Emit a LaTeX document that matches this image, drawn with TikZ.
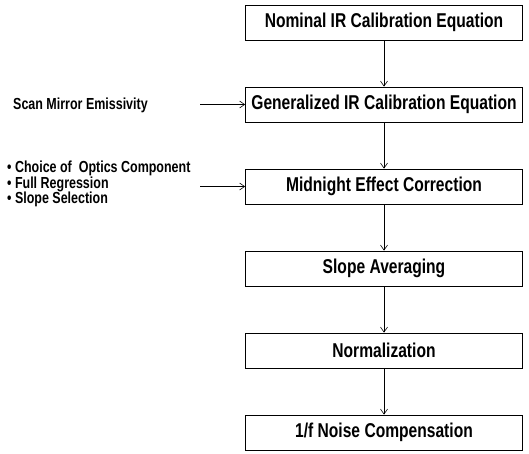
\documentclass[tikz,border=0pt]{standalone}
\usepackage{fontspec}
\setmainfont[FakeStretch=0.78]{Liberation Sans}
\usetikzlibrary{arrows.meta}
\tikzstyle{stage} = [rectangle, minimum width=277pt, minimum height=35pt, text centered, draw=black, line width=0.8pt, font=\fontsize{20}{22}\selectfont\bfseries]
\tikzstyle{input} = [inner sep=0pt, align=left, font=\fontsize{16}{15.5}\selectfont\bfseries]

\begin{document}
\begin{tikzpicture}[node distance=82pt, x=1pt, y=-1pt]
    \tikzset{myptr/.style={-{Straight Barb[length=5pt,width=7pt]}, line width=0.6pt}}
    \useasboundingbox (0,0) rectangle (529,453);
    % processing chain
    \node (nominal) [stage] at (384,22.5) {Nominal IR Calibration Equation};
    \node (general) [stage, below of=nominal] {Generalized IR Calibration Equation};
    \node (midnight) [stage, below of=general] {Midnight Effect Correction};
    \node (slope) [stage, below of=midnight] {Slope Averaging};
    \node (norm) [stage, below of=slope] {Normalization};
    \node (noise) [stage, below of=norm] {1/f Noise Compensation};

    % inputs on the left
    \node (scan) [input, anchor=west] at (13,105) {Scan Mirror Emissivity};
    \node (options) [input, anchor=north west] at (7,161) {\textbullet\ Choice of~ Optics Component\\ \textbullet\ Full Regression\\ \textbullet\ Slope Selection};
    \coordinate (scanin) at ([xshift=-45pt]general.west);
    \coordinate (optin) at ([xshift=-45pt]midnight.west);

    \draw [myptr] (nominal.south) -- (general.north);
    \draw [myptr] (general.south) -- (midnight.north);
    \draw [myptr] (midnight.south) -- (slope.north);
    \draw [myptr] (slope.south) -- (norm.north);
    \draw [myptr] (norm.south) -- (noise.north);

    \draw [myptr] (scanin) -- (general.west);
    \draw [myptr] (optin) -- (midnight.west);
\end{tikzpicture}
\end{document}
